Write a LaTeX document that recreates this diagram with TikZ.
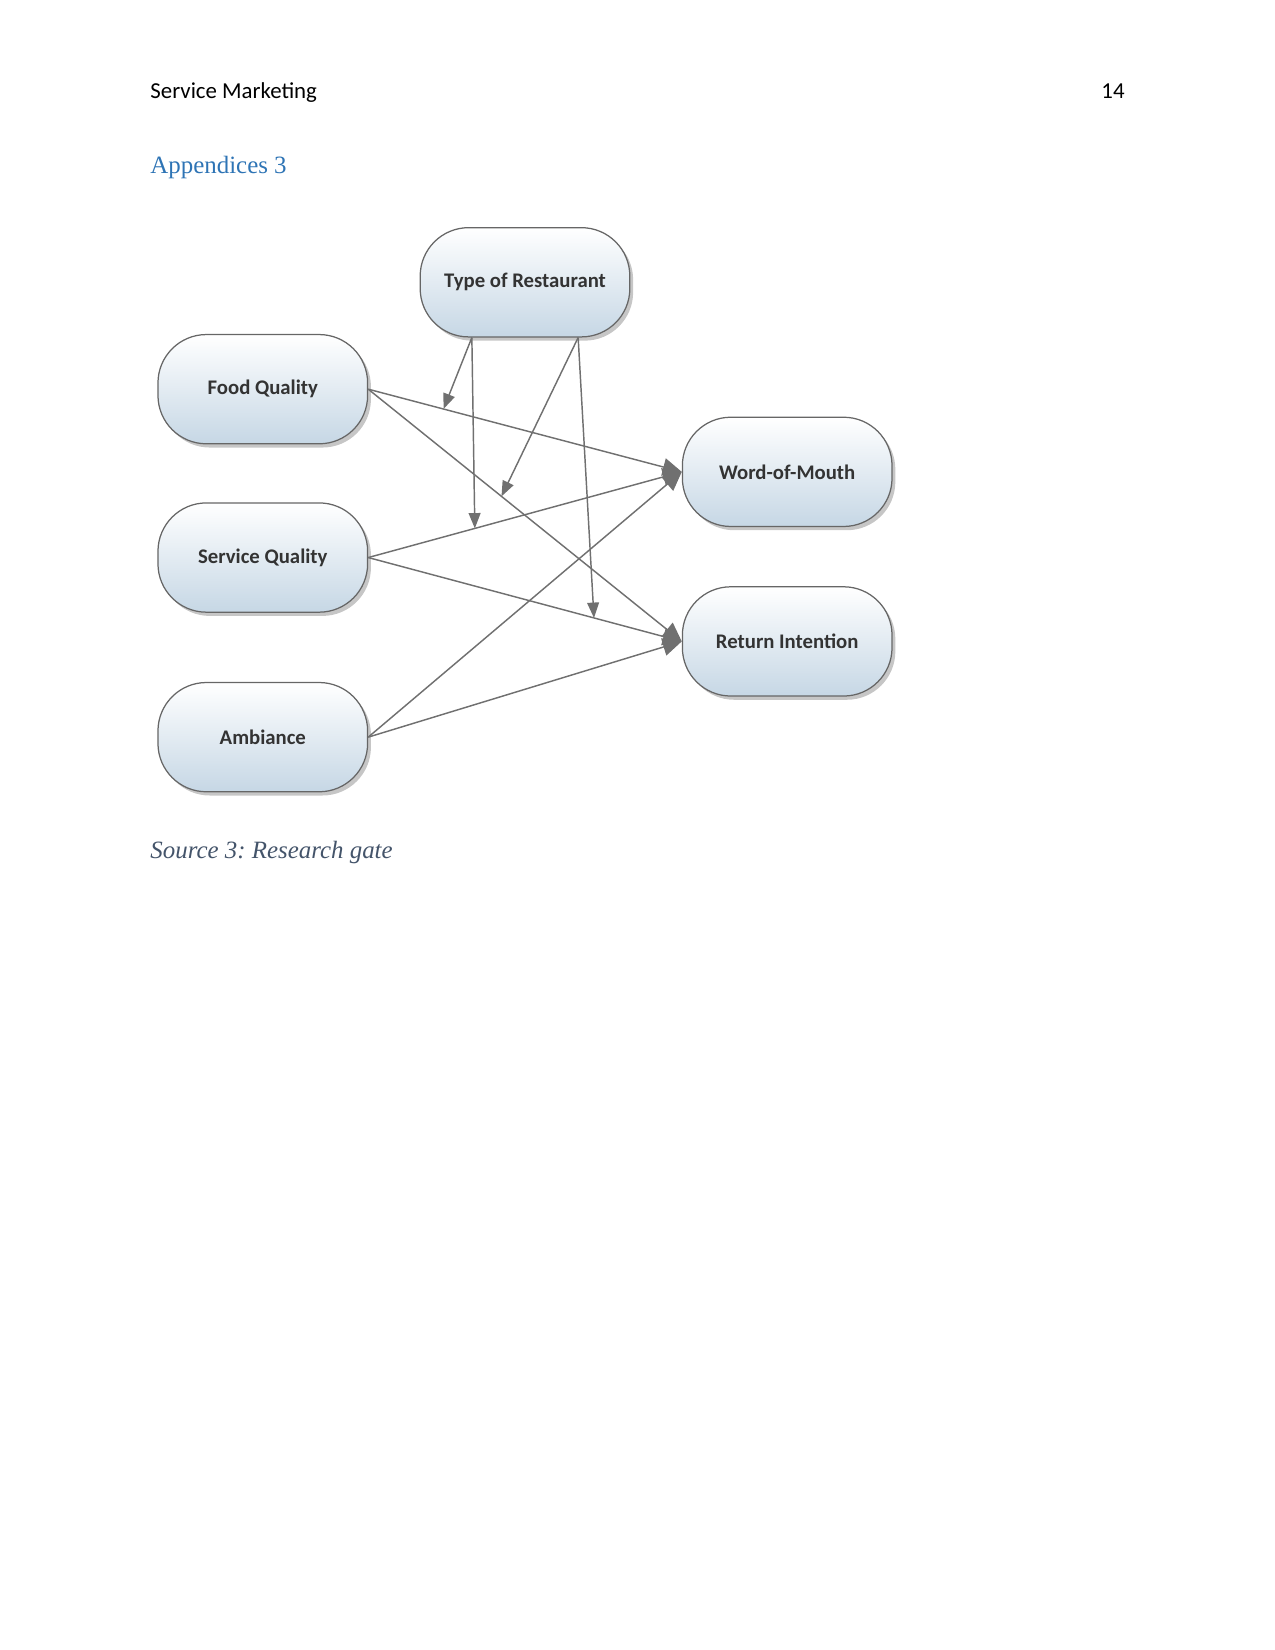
\documentclass[tikz,border=0pt]{standalone}
\usepackage{fontspec}
\setmainfont{Liberation Serif}
\setsansfont{Carlito}
\usepackage{tikz}
\usetikzlibrary{positioning,shadows,arrows.meta}

\definecolor{headblue}{HTML}{2E74B5}
\definecolor{capgray}{HTML}{44546A}
\definecolor{boxblue}{HTML}{C6D7E5}
\definecolor{edgegray}{HTML}{707070}
\definecolor{labelgray}{HTML}{333333}

\frenchspacing
\begin{document}
\begin{tikzpicture}[
    >={Triangle[length=3.2mm, width=3mm]},
    factor/.style={rectangle, rounded corners=0.82cm, draw=gray!80!black,
                   line width=0.6pt, top color=white, bottom color=boxblue,
                   minimum width=3.55cm, minimum height=1.85cm, inner sep=2pt,
                   font=\sffamily\bfseries\fontsize{10}{12}\selectfont,
                   text=labelgray,
                   drop shadow={shadow xshift=1.6pt, shadow yshift=-1.8pt,
                                opacity=0.45}},
    link/.style={draw=edgegray, fill=edgegray, line width=0.7pt, ->},
    moder/.style={draw=edgegray, fill=edgegray, line width=0.7pt,
                  -{Triangle[length=2.6mm, width=2mm]}},
    pagetext/.style={inner sep=0pt, font=\fontsize{12}{14}\selectfont},
]

% page frame
\useasboundingbox (0,0) rectangle (21.59,-27.94);

% --- header and titles ---
\node[pagetext, anchor=base west, font=\sffamily\fontsize{11}{13}\selectfont] (head) at (2.54,-1.66) {Service Marketing};
\node[pagetext, anchor=base east, font=\sffamily\fontsize{11}{13}\selectfont] (pagenum) at (19.05,-1.66) {14};
\node[pagetext, anchor=base west, text=headblue] (appx) at (2.54,-2.94) {Appendices 3};
\node[pagetext, anchor=base west, text=capgray, font=\itshape\fontsize{12}{14}\selectfont] (source) at (2.54,-14.53) {Source 3: Research gate};

% --- independent variables (left column) ---
\node[factor] (fq) at (4.45,-6.59) {Food Quality};
\node[factor, below=0.98cm of fq]  (sq)  {Service Quality};
\node[factor, below=1.17cm of sq]  (amb) {Ambiance};

% --- moderator ---
\node[factor] (tr) at (8.89,-4.78) {Type of Restaurant};

% --- outcomes (right column) ---
\node[factor] (wom) at (13.33,-7.99) {Word-of-Mouth};
\node[factor, below=1.0cm of wom] (ri) {Return Intention};

% --- direct effects ---
\draw[link] (fq.east)  -- (wom.west);
\draw[link] (fq.east)  -- (ri.west);
\draw[link] (sq.east)  -- (wom.west);
\draw[link] (sq.east)  -- (ri.west);
\draw[link] (amb.east) -- (wom.west);
\draw[link] (amb.east) -- (ri.west);

% points on the paths hit by the moderator
\path (fq.east) -- (wom.west) coordinate[pos=0.24]  (fqwom);
\path (sq.east) -- (wom.west) coordinate[pos=0.34]  (sqwom);
\path (fq.east) -- (ri.west)  coordinate[pos=0.425] (fqri);
\path (sq.east) -- (ri.west)  coordinate[pos=0.72]  (sqri);

\coordinate[left=0.9cm of tr.south]  (trleft);
\coordinate[right=0.9cm of tr.south] (trright);

\draw[moder] (trleft)  -- (fqwom);
\draw[moder] (trleft)  -- (sqwom);
\draw[moder] (trright) -- (fqri);
\draw[moder] (trright) -- (sqri);

\end{tikzpicture}
\end{document}
